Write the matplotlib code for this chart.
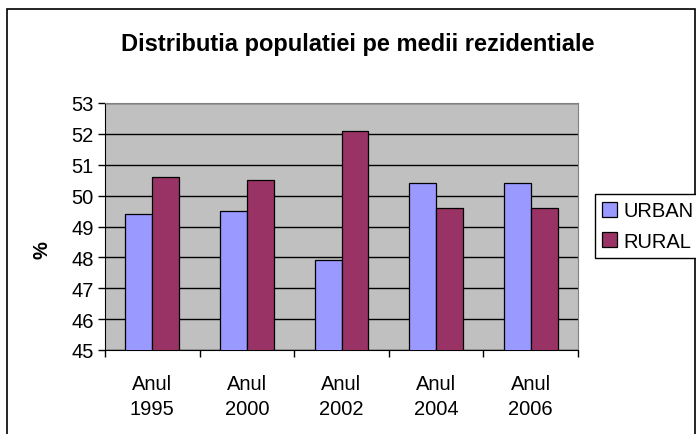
import matplotlib.pyplot as plt
import numpy as np
from matplotlib.patches import Rectangle

plt.rcParams['font.family'] = ['Liberation Sans', 'DejaVu Sans']

years = ["1995", "2000", "2002", "2004", "2006"]
urban = [49.4, 49.5, 47.9, 50.4, 50.4]
rural = [50.6, 50.5, 52.1, 49.6, 49.6]
labels = ["Anul\n" + y for y in years]

fig = plt.figure(figsize=(6.96, 4.35), dpi=100)
# outer chart frame (bottom edge falls outside the image)
fig.patches.append(Rectangle((7 / 696, -0.05), 1 - 8 / 696, 1.05 - 10 / 435, transform=fig.transFigure,
                             fill=False, edgecolor='black', linewidth=1.2))

ax = fig.add_axes([105 / 696, 84 / 435, 473 / 696, 247 / 435])
ax.set_facecolor('#C0C0C0')

x = np.arange(len(years))
w = 0.285
ax.bar(x - w / 2, urban, w, color='#9999FF', edgecolor='black', linewidth=0.9, label='URBAN', zorder=3)
ax.bar(x + w / 2, rural, w, color='#993366', edgecolor='black', linewidth=0.9, label='RURAL', zorder=3)

ax.set_ylim(45, 53)
ax.set_xlim(-0.5, len(years) - 0.5)
ax.set_yticks(range(45, 54))
ax.yaxis.grid(True, color='black', linewidth=1, zorder=1)
ax.tick_params(axis='y', labelsize=14.5, length=5, width=1, pad=3)

ax.set_xticks(x)
ax.set_xticklabels(labels, fontsize=14.5, linespacing=1.4)
ax.set_xticks(np.arange(-0.5, len(years)), minor=True)
ax.tick_params(axis='x', which='major', length=0, pad=17)
ax.tick_params(axis='x', which='minor', length=5, width=1)

for s in ['top', 'right']:
    ax.spines[s].set_color('#808080')
for s in ['left', 'bottom']:
    ax.spines[s].set_color('black')

fig.text(42 / 696, 1 - 250 / 435, '%', rotation=90, ha='center', va='center',
         fontsize=14.5, fontweight='bold')
fig.text(358 / 696, 1 - 45 / 435, 'Distributia populatiei pe medii rezidentiale',
         ha='center', va='center', fontsize=17, fontweight='bold')

fig.legend(loc='center left', bbox_to_anchor=(595 / 696, 1 - 227 / 435), fontsize=14.5,
           frameon=True, fancybox=False, edgecolor='black', framealpha=1,
           handlelength=0.75, handleheight=0.75, handletextpad=0.3, borderpad=0.35,
           labelspacing=0.55, borderaxespad=0)

fig.savefig('out.png', dpi=100)
